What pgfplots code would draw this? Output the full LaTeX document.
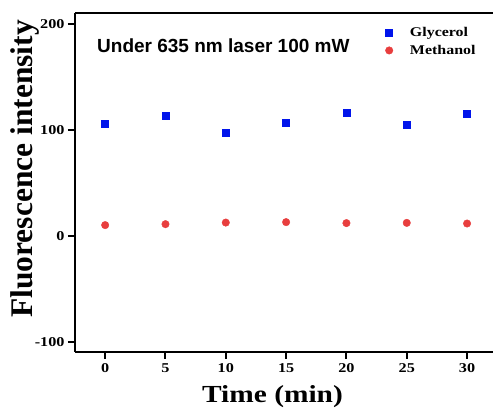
\documentclass[border=0pt]{standalone}
\usepackage{fontspec}
\setmainfont{Liberation Serif}[FakeStretch=1.2]
\newfontfamily\ylabfont{Liberation Serif}
\newfontfamily\arialfont{Liberation Sans}
\usepackage{pgfplots}
\pgfplotsset{compat=1.18}
\definecolor{glyblue}{RGB}{0,20,235}
\definecolor{methred}{RGB}{232,62,62}
\begin{document}
\begin{tikzpicture}
\useasboundingbox (0,0) rectangle (493pt,412pt);
\begin{axis}[
    at={(75pt,60pt)}, anchor=south west,
    scale only axis,
    width=418pt, height=339pt,
    xmin=-2.5, xmax=32.15,
    ymin=-109, ymax=210,
    axis x line*=bottom, axis y line*=left,
    x axis line style={-}, y axis line style={-},
    axis line style={line width=2.5pt, black},
    xtick={0,5,...,30}, ytick={-100,0,100,200},
    tick align=outside, major tick length=7pt,
    tick style={line width=2pt, black},
    tick label style={font=\fontsize{13.5}{15}\selectfont\bfseries},
    xticklabel style={yshift=-1pt},
    /pgf/number format/assume math mode=true,
    xlabel={Time (min)},
    xlabel style={font=\fontsize{24.5}{28}\selectfont\bfseries,
        at={(axis description cs:0.4725,-0.1475)}, anchor=base},
    ylabel={Fluorescence intensity},
    ylabel style={font=\fontsize{31.5}{34}\ylabfont\bfseries,
        at={(axis description cs:-0.1005,0.54)}, anchor=base},
    legend style={draw=none, fill=none, at={(rel axis cs:0.735,0.97)},
        anchor=north west, font=\fontsize{13.3}{16}\selectfont\bfseries,
        row sep=3pt,
        /tikz/every odd column/.append style={column sep=15pt}},
    legend cell align=left,
    legend image code/.code={\draw[#1] plot coordinates {(0.3cm,0cm)};},
]
\addplot[only marks, mark=square*, mark size=3.5pt, color=glyblue]
    coordinates {(0,105.7) (5,113.2) (10,97.7) (15,106.9) (20,116) (25,105.3) (30,115.1)};
\addlegendentry{Glycerol}
\addplot[only marks, mark=*, mark size=3.75pt, color=methred]
    coordinates {(0,10.4) (5,11.3) (10,12.8) (15,13.2) (20,12.3) (25,12.5) (30,11.9)};
\addlegendentry{Methanol}
\draw[line width=2.5pt, black] (rel axis cs:0,1) -- (rel axis cs:1,1);
\node[anchor=base west, inner sep=0pt, font=\fontsize{19}{22}\arialfont\bfseries]
    at (rel axis cs:0.0526,0.883) {Under 635 nm laser 100 mW};
\end{axis}
\end{tikzpicture}
\end{document}
